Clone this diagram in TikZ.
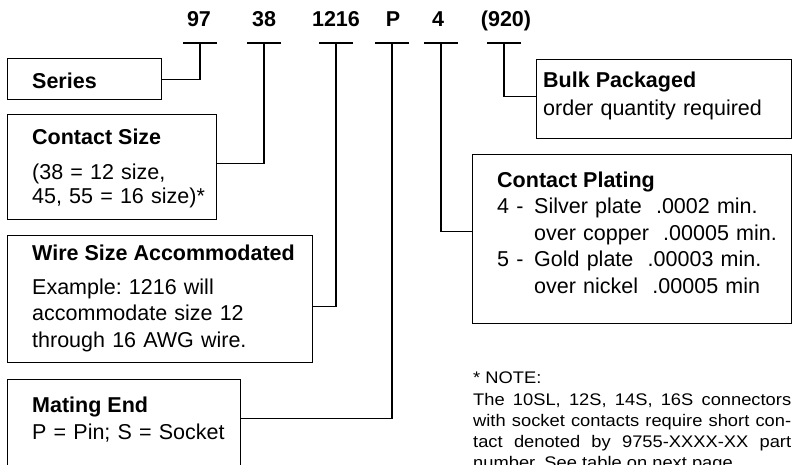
\documentclass[tikz,border=0pt]{standalone}
\usepackage{fontspec}
\setmainfont{Liberation Sans}
\newfontfamily\notefont[FakeStretch=1.09]{Liberation Sans}
\frenchspacing

\tikzset{
  partbox/.style={draw, line width=1.3pt, inner sep=0pt, anchor=north west},
  codenum/.style={font=\fontsize{21.5}{26}\selectfont\bfseries, anchor=base, inner sep=0pt},
  heading/.style={font=\fontsize{21.5}{26}\selectfont\bfseries, anchor=base west, inner sep=0pt},
  bodytext/.style={font=\fontsize{21.5}{26.5}\selectfont, anchor=base west, inner sep=0pt, text width=290pt, align=left},
  notetext/.style={font=\notefont\fontsize{16.8}{21}\selectfont, anchor=base west, inner sep=0pt, text width=318pt, align=justify},
  leader/.style={line width=1.3pt},
}

\begin{document}
\begin{tikzpicture}[x=1pt, y=-1pt]
    \useasboundingbox (0,0) rectangle (794,464);

    % the part number
    \node[codenum] (c97) at (199,26) {97};
    \node[codenum] (c38) at (264,26) {38};
    \node[codenum] (c1216) at (336,26) {1216};
    \node[codenum] (cP) at (393,26) {P};
    \node[codenum] (c4) at (438,26) {4};
    \node[codenum] (c920) at (506,26) {(920)};

    \coordinate (b97) at (200,43);
    \coordinate (b38) at (264,43);
    \coordinate (b1216) at (336,43);
    \coordinate (bP) at (392,43);
    \coordinate (b4) at (441,43);
    \coordinate (b920) at (504,43);

    \draw[leader] ([xshift=-17pt]b97) -- ([xshift=17pt]b97);
    \draw[leader] ([xshift=-17pt]b38) -- ([xshift=17pt]b38);
    \draw[leader] ([xshift=-17pt]b1216) -- ([xshift=17pt]b1216);
    \draw[leader] ([xshift=-17pt]bP) -- ([xshift=17pt]bP);
    \draw[leader] ([xshift=-17pt]b4) -- ([xshift=17pt]b4);
    \draw[leader] ([xshift=-17pt]b920) -- ([xshift=17pt]b920);

    % left column
    \node[partbox, minimum width=154pt, minimum height=41pt] (series) at (7,58) {};
    \node[heading] (seriestitle) at (32,88) {Series};

    \node[partbox, minimum width=209pt, minimum height=105pt] (contact) at (7,114) {};
    \node[heading] (contacttitle) at (32,144) {Contact Size};
    \node[bodytext, font=\fontsize{21.5}{24.5}\selectfont] (contactbody) at (32,179) {(38 = 12 size,\\45, 55 = 16 size)*};

    \node[partbox, minimum width=305pt, minimum height=127pt] (wire) at (7,235) {};
    \node[heading] (wiretitle) at (32,260) {Wire Size Accommodated};
    \node[bodytext] (wirebody) at (32,294) {Example: 1216 will\\accommodate size 12\\through 16 AWG wire.};

    \node[partbox, minimum width=233pt, minimum height=100pt] (mating) at (7,379) {};
    \node[heading] (matingtitle) at (32,412) {Mating End};
    \node[bodytext] (matingbody) at (32,439.5) {P = Pin; S = Socket};

    % right column
    \node[partbox, minimum width=255pt, minimum height=79pt] (bulk) at (536,59) {};
    \node[heading] (bulktitle) at (543,87) {Bulk Packaged};
    \node[bodytext] (bulkbody) at (543,115.5) {order quantity required};

    \node[partbox, minimum width=319pt, minimum height=169pt] (plating) at (472,154) {};
    \node[heading] (platingtitle) at (497,187) {Contact Plating};
    \node[bodytext, font=\fontsize{21.5}{26.7}\selectfont] (platingbody) at (497,213.3)
        {\makebox[37pt][l]{4 -}Silver plate~~.0002 min.\\
         \hspace*{37pt}over copper~~.00005 min.\\
         \makebox[37pt][l]{5 -}Gold plate~~.00003 min.\\
         \hspace*{37pt}over nickel~~.00005 min};

    \node[notetext] (notehead) at (473,383) {* NOTE:};
    \node[notetext] (note) at (473,405) {The 10SL, 12S, 14S, 16S connectors\linebreak
        with socket contacts require short con-\linebreak
        tact denoted by 9755-XXXX-XX part\linebreak
        number. See table on next page.};

    % leaders from the code to the boxes
    \draw[leader] (b97) |- (series.east);
    \draw[leader] (b38) |- ([yshift=3.5pt]contact.east);
    \draw[leader] (b1216) |- ([yshift=-7.5pt]wire.east);
    \draw[leader] (bP) |- ([yshift=11pt]mating.east);
    \draw[leader] (b4) |- ([yshift=7.5pt]plating.west);
    \draw[leader] (b920) |- ([yshift=2.5pt]bulk.west);

\end{tikzpicture}
\end{document}
